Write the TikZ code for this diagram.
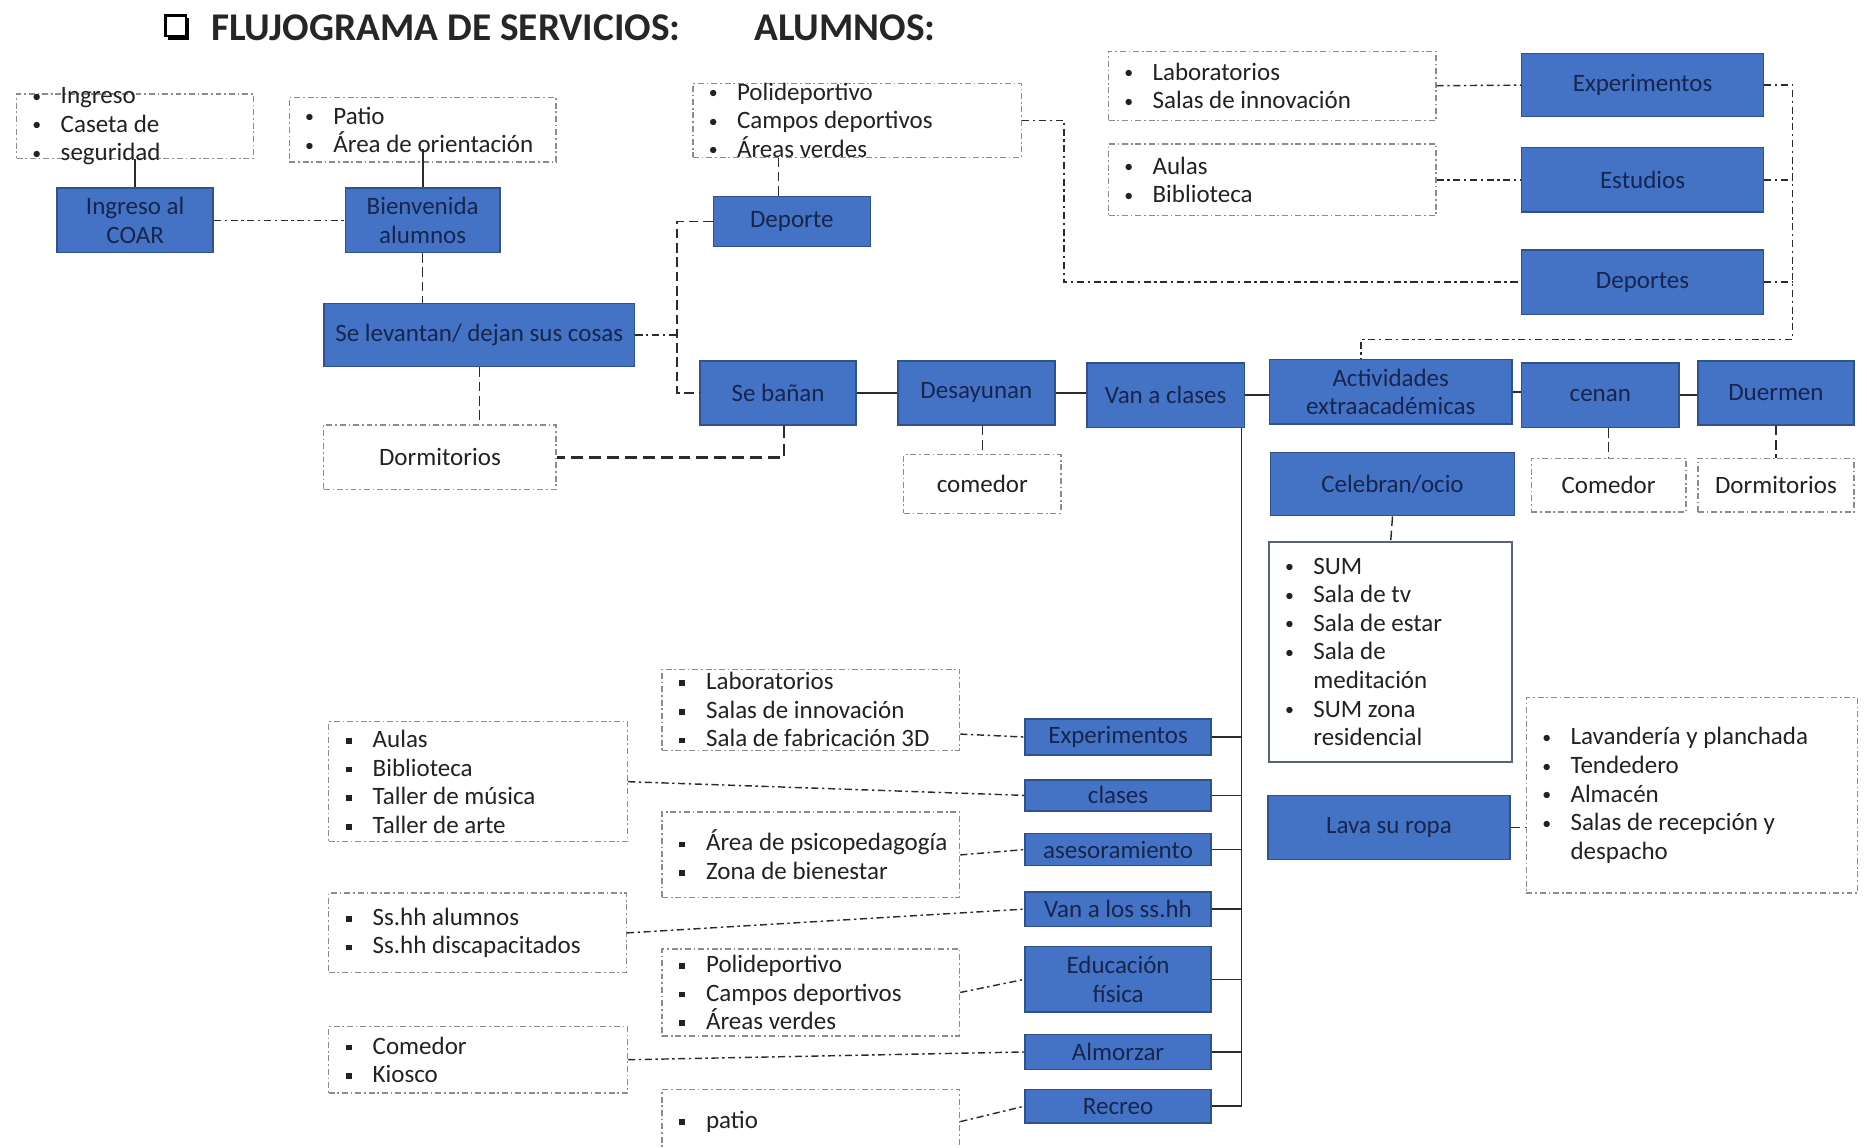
\documentclass[tikz,border=0pt]{standalone}
\usepackage{fontspec}
\setmainfont{Carlito}
\usetikzlibrary{calc}
\definecolor{bfill}{HTML}{4472C4}
\definecolor{bborder}{HTML}{2F528F}
\definecolor{btext}{HTML}{17254F}
\definecolor{ltext}{HTML}{222222}
\definecolor{lborder}{HTML}{8C8C8C}
\definecolor{sumborder}{HTML}{5A6478}
\definecolor{conn}{HTML}{2B2B2B}
\newcommand\lst[3]{\parbox[c][#2][c]{#1}{\fontsize{10.5}{12}\selectfont\raggedright #3}}
\newcommand\smb{\raisebox{0.6pt}{\fontsize{7.5}{7.5}\selectfont\textbullet}}
\newcommand\bl[1]{\hspace*{4pt}\makebox[9pt][c]{\smb}\hspace{5.5pt}#1\par}
\newcommand\sq[1]{\hspace*{4pt}\makebox[9pt][c]{\raisebox{1.5pt}{\rule{2.4pt}{2.4pt}}}\hspace{5.5pt}#1\par}
\newcommand\cl[1]{\hspace*{18.5pt}#1\par}
\tikzset{
 bbox/.style 2 args={draw=bborder, line width=0.6pt, fill=bfill, text=btext, inner sep=0pt, align=center, minimum width=#1, minimum height=#2, font=\fontsize{10.5}{12}\selectfont},
 lbox/.style={draw=lborder, line width=0.5pt, dash pattern=on 2.5pt off 1.2pt on 0.7pt off 1.2pt, inner sep=0pt, fill=white, text=ltext, font=\fontsize{10.5}{12}\selectfont},
 tbox/.style 2 args={lbox, minimum width=#1, minimum height=#2, align=center},
 dashdot/.style={draw=conn, line width=0.6pt, dash pattern=on 3pt off 1.5pt on 1pt off 1.5pt},
 dsh/.style={draw=conn, line width=0.6pt, dash pattern=on 4pt off 2pt},
 thickdsh/.style={draw=conn, line width=1.1pt, dash pattern=on 5pt off 2.5pt},
 solidc/.style={draw=conn, line width=0.7pt},
 ttl/.style={anchor=base west, inner sep=0pt, font=\fontsize{16.5}{18}\selectfont\bfseries, text=black!85},
}
\begin{document}
\begin{tikzpicture}[x=0.5pt,y=-0.5pt]
\fill[white] (0,0) rectangle (1568,964);
\useasboundingbox (0,0) rectangle (1568,964);
% title
\draw[line width=0.9pt] (139,13) rectangle (156,30);
\fill (141,30) rectangle (159,33.5);
\fill (156,15) rectangle (159,33.5);
\node[ttl] (t1) at (177,34) {FLUJOGRAMA DE SERVICIOS:};
\node[ttl] (t2) at (633,34) {ALUMNOS:};
% list boxes top
\node[lbox] (ingL) at (113.5,106) {\lst{99.5pt}{27pt}{\bl{Ingreso}\bl{Caseta de}\bl{seguridad}}};
\node[lbox] (patioL) at (355,109) {\lst{112pt}{27pt}{\bl{Patio}\bl{Área de orientación}}};
\node[lbox] (poliL) at (720,101) {\lst{138pt}{31pt}{\bl{Polideportivo}\bl{Campos deportivos}\bl{Áreas verdes}}};
\node[lbox] (labL) at (1068.5,72) {\lst{137.5pt}{29pt}{\bl{Laboratorios}\bl{Salas de innovación}}};
\node[lbox] (aulasL) at (1068.5,151) {\lst{137.5pt}{30pt}{\bl{Aulas}\bl{Biblioteca}}};
\node[tbox={97.5pt}{27pt}] (dormL) at (369.5,384) {Dormitorios};
\node[tbox={66pt}{24.5pt}] (comL1) at (825,406.5) {comedor};
\node[tbox={65pt}{22.5pt}] (comL2) at (1351,407.5) {Comedor};
\node[tbox={65.5pt}{22.5pt}] (dormL2) at (1491.5,407.5) {Dormitorios};
\node[lbox, solid, draw=sumborder, line width=0.7pt] (sumL) at (1168,547.5) {\lst{102pt}{92.5pt}{\bl{SUM}\bl{Sala de tv}\bl{Sala de estar}\bl{Sala de}\cl{meditación}\bl{SUM zona}\cl{residencial}}};
\node[lbox] (lavL) at (1421,668) {\lst{139pt}{82pt}{\bl{Lavandería y planchada}\bl{Tendedero}\bl{Almacén}\bl{Salas de recepción y}\cl{despacho}}};
% list boxes bottom
\node[lbox] (lab2) at (681,596) {\lst{125pt}{34pt}{\sq{Laboratorios}\sq{Salas de innovación}\sq{Sala de fabricación 3D}}};
\node[lbox] (aulas2) at (401.5,656.5) {\lst{125.5pt}{50.5pt}{\sq{Aulas}\sq{Biblioteca}\sq{Taller de música}\sq{Taller de arte}}};
\node[lbox] (psico) at (681,718) {\lst{125pt}{36pt}{\sq{Área de psicopedagogía}\sq{Zona de bienestar}}};
\node[lbox] (sshhL) at (401,783.5) {\lst{125pt}{33.5pt}{\sq{Ss.hh alumnos}\sq{Ss.hh discapacitados}}};
\node[lbox] (poli2) at (681,833.5) {\lst{125pt}{36.5pt}{\sq{Polideportivo}\sq{Campos deportivos}\sq{Áreas verdes}}};
\node[lbox] (comL) at (401.5,890) {\lst{125.5pt}{28pt}{\sq{Comedor}\sq{Kiosco}}};
\node[lbox] (patio2) at (681,942) {\lst{125pt}{27pt}{\sq{patio}}};
% blue boxes
\node[bbox={65.5pt}{27pt}] (coar) at (113.5,185) {Ingreso al\\COAR};
\node[bbox={65pt}{27pt}] (bienv) at (355,185) {Bienvenida\\alumnos};
\node[bbox={130.5pt}{26.5pt}] (lev) at (402.5,281.5) {Se levantan/ dejan sus cosas};
\node[bbox={66pt}{21pt}] (deporte) at (665,186) {Deporte};
\node[bbox={65.5pt}{27pt}] (banan) at (653.5,330) {Se bañan};
\node[bbox={66pt}{27pt}] (desay) at (820,330) {Desayunan};
\node[bbox={66pt}{27pt}] (vclases) at (979,332) {Van a clases};
\node[bbox={102pt}{27pt}] (activ) at (1168,329) {Actividades\\extraacadémicas};
\node[bbox={66pt}{27pt}] (cenan) at (1344,332) {cenan};
\node[bbox={65.5pt}{27pt}] (duermen) at (1491.5,330) {Duermen};
\node[bbox={101.5pt}{26.5pt}] (exp1) at (1379.5,71.5) {Experimentos};
\node[bbox={101.5pt}{27pt}] (estud) at (1379.5,151) {Estudios};
\node[bbox={101.5pt}{27pt}] (deportes) at (1379.5,237) {Deportes};
\node[bbox={102.5pt}{26.5pt}] (celeb) at (1169.5,406.5) {Celebran/ocio};
\node[bbox={101.5pt}{27pt}] (lava) at (1166.5,695) {Lava su ropa};
\node[bbox={78pt}{15pt}] (exp2) at (939,619) {Experimentos};
\node[bbox={78pt}{13pt}] (clases2) at (939,668) {clases};
\node[bbox={78pt}{13.5pt}] (aseso) at (939,713.5) {asesoramiento};
\node[bbox={78pt}{14.5pt}] (sshh) at (939,763.5) {Van a los ss.hh};
\node[bbox={78pt}{27.5pt}] (edfis) at (939,822.5) {Educación\\física};
\node[bbox={78pt}{14.5pt}] (almorzar) at (939,883.5) {Almorzar};
\node[bbox={78pt}{14pt}] (recreo) at (939,929) {Recreo};
% connectors top-left
\draw[solidc] (ingL.south) -- (coar.north);
\draw[solidc] ([yshift=5.5pt]patioL.south) -- (bienv.north);
\draw[dashdot] (coar.east) -- (bienv.west);
\draw[dsh] (bienv.south) -- (bienv.south |- lev.north);
\draw[dsh] (lev.south) -- (lev.south |- dormL.north);
\coordinate (j1) at ($(lev.east)+(35,0)$);
\draw[dashdot] (lev.east) -- (j1);
\draw[dsh] (deporte.west) -| (j1) |- (banan.west);
\coordinate (dpn) at ($(deporte.north)+(-11,0)$);
\draw[dsh] (dpn) -- (dpn |- poliL.south);
\coordinate (j2) at ($(poliL.east)+(35,0)$);
\draw[dashdot] (poliL.east) -- (j2) |- (deportes.west);
% top right
\draw[dashdot] (labL.east) -- (exp1.west);
\draw[dashdot] (aulasL.east) -- (estud.west);
\coordinate (r1) at ($(exp1.east)+(24,0)$);
\coordinate (r2) at ($(r1)+(0,213.5)$);
\coordinate (an) at ($(activ.north)+(-25,0)$);
\draw[dashdot] (exp1.east) -- (r1) -- (r2) -| (an);
\draw[dashdot] (estud.east) -- (estud.east -| r1);
\draw[dashdot] (deportes.east) -- (deportes.east -| r1);
% main chain
\draw[solidc] (banan.east) -- (desay.west);
\draw[solidc] (desay.east) -- (desay.east -| vclases.west);
\draw[solidc] (vclases.east) -- (vclases.east -| activ.west);
\draw[solidc] (activ.east) -- (activ.east -| cenan.west);
\draw[solidc] (cenan.east) -- (cenan.east -| duermen.west);
\coordinate (bs) at ($(banan.south)+(5,0)$);
\draw[thickdsh] (bs) |- (dormL.east);
\draw[dsh] (comL1.north |- desay.south) -- (comL1.north);
\draw[dsh] (comL2.north |- cenan.south) -- (comL2.north);
\draw[dsh] (dormL2.north |- duermen.south) -- (dormL2.north);
\draw[dsh] (celeb.south) -- (sumL.north);
\draw[dsh] (lava.east) -- (lava.east -| lavL.west);
% lower tree
\coordinate (vc) at ($(vclases.south east)+(-3,0)$);
\draw[solidc] (vc) |- (recreo.east);
\foreach \n in {exp2,clases2,aseso,sshh,edfis,almorzar}
  \draw[solidc] (\n.east) -- (\n.east -| vc);
\draw[dashdot] ($(lab2.south east)+(0,-14)$) -- (exp2.west);
\draw[dashdot] (aulas2.east) -- (clases2.west);
\draw[dashdot] (psico.east) -- (aseso.west);
\draw[dashdot] (sshhL.east) -- (sshh.west);
\draw[dashdot] (poli2.east) -- (edfis.west);
\draw[dashdot] (comL.east) -- (almorzar.west);
\draw[dashdot] (patio2.east) -- (recreo.west);
\end{tikzpicture}
\end{document}
